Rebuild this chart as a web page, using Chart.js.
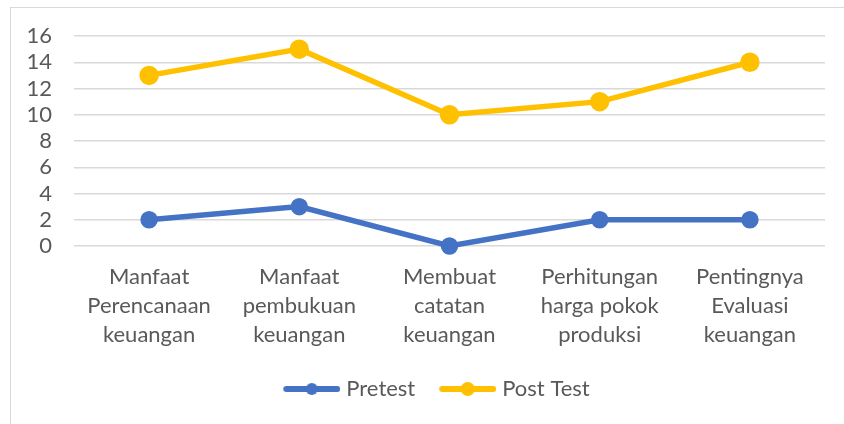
<!DOCTYPE html>
<html>
<head>
<meta charset="utf-8">
<script src="https://cdn.jsdelivr.net/npm/chart.js@4/dist/chart.umd.min.js"></script>
<style>
    html, body { margin: 0; padding: 0; background: #fff; }
    #frame {
        position: absolute; left: 10px; top: 7px; width: 840px; height: 420px;
        border-left: 1px solid #d9d9d9; border-top: 1px solid #d9d9d9;
    }
    #wrap { position: absolute; left: 0; top: 0; width: 844px; height: 424px; }
</style>
</head>
<body>
<div id="frame"></div>
<div id="wrap"><canvas id="chart" width="844" height="424"></canvas></div>
<script>
const categories = [
    ['Manfaat', 'Perencanaan', 'keuangan'],
    ['Manfaat', 'pembukuan', 'keuangan'],
    ['Membuat', 'catatan', 'keuangan'],
    ['Perhitungan', 'harga pokok', 'produksi'],
    ['Pentingnya', 'Evaluasi', 'keuangan']
];
const pretest = [2, 3, 0, 2, 2];
const postTest = [13, 15, 10, 11, 14];
const seriesNames = ['Pretest', 'Post Test'];
const seriesColors = ['#4472C4', '#FFC000'];

const FONT = 'Lato';
const TEXT = '#595959';
const BOX_W = 56;
const IMG_W = 66;

// line-with-marker picture for the legend; wider than the box so the line ends near the text
function legendSymbol(color, radius) {
    const c = document.createElement('canvas');
    c.width = IMG_W;
    c.height = 18;
    const ctx = c.getContext('2d');
    ctx.strokeStyle = color;
    ctx.lineWidth = 6;
    ctx.lineCap = 'round';
    ctx.beginPath();
    ctx.moveTo(12, 9);
    ctx.lineTo(63, 9);
    ctx.stroke();
    ctx.fillStyle = color;
    ctx.beginPath();
    ctx.arc(37.5, 9, radius, 0, Math.PI * 2);
    ctx.fill();
    return c;
}

const symbols = [legendSymbol(seriesColors[0], 6), legendSymbol(seriesColors[1], 7)];

// the legend in the reference sits a little right of centre
const legendShift = {
    id: 'legendShift',
    afterLayout(chart) {
        chart.legend.left += 22;
        chart.legend.right += 22;
    }
};

new Chart(document.getElementById('chart').getContext('2d'), {
    type: 'line',
    data: {
        labels: categories,
        datasets: [
            {
                label: seriesNames[0],
                data: pretest,
                borderColor: seriesColors[0],
                backgroundColor: seriesColors[0],
                borderWidth: 5.5,
                pointRadius: 6,
                pointHoverRadius: 6,
                tension: 0,
                clip: false
            },
            {
                label: seriesNames[1],
                data: postTest,
                borderColor: seriesColors[1],
                backgroundColor: seriesColors[1],
                borderWidth: 5.5,
                pointRadius: 7,
                pointHoverRadius: 7,
                tension: 0,
                clip: false
            }
        ]
    },
    plugins: [legendShift],
    options: {
        responsive: false,
        animation: false,
        layout: {
            padding: {left: 0, right: 19, top: 36, bottom: 14}
        },
        scales: {
            x: {
                offset: true,
                grid: {display: false, drawTicks: false},
                border: {display: false},
                ticks: {
                    color: TEXT,
                    padding: 16,
                    maxRotation: 0,
                    autoSkip: false,
                    font: {family: FONT, size: 22, lineHeight: 1.32}
                },
                afterFit: scale => { scale.height = 112; }
            },
            y: {
                min: 0,
                max: 16,
                ticks: {
                    stepSize: 2,
                    autoSkip: false,
                    color: TEXT,
                    padding: 22,
                    font: {family: FONT, size: 22}
                },
                grid: {color: '#d9d9d9', lineWidth: 1.5, drawTicks: false},
                border: {display: false},
                afterFit: scale => { scale.width = 74; }
            }
        },
        plugins: {
            tooltip: {enabled: false},
            legend: {
                position: 'bottom',
                labels: {
                    color: TEXT,
                    font: {family: FONT, size: 22},
                    usePointStyle: true,
                    pointStyleWidth: BOX_W,
                    padding: 20,
                    generateLabels: chart => chart.data.datasets.map((ds, i) => ({
                        text: ds.label,
                        fontColor: TEXT,
                        pointStyle: symbols[i],
                        datasetIndex: i,
                        hidden: false,
                        lineWidth: 0
                    }))
                }
            }
        }
    }
});
</script>
</body>
</html>
